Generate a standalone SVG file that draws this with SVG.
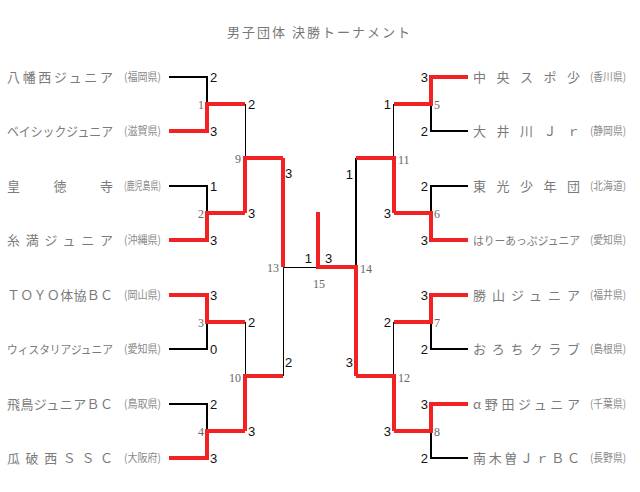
<svg xmlns="http://www.w3.org/2000/svg" width="640" height="492" viewBox="0 0 640 492">
<style>
.bg{fill:#fff}
.title{font-family:"Noto Sans CJK JP","Liberation Sans",sans-serif;font-size:13px;fill:#777}
.nm{font-family:"Noto Sans CJK JP","Liberation Sans",sans-serif;font-size:13px;fill:#7a7a7a}
.pf{font-family:"Noto Sans CJK JP","Liberation Sans",sans-serif;font-size:11px;fill:#8a8a8a}
.sc{font-family:"Liberation Sans",Arial,sans-serif;font-size:13px;fill:#111}
.mn{font-family:"Liberation Serif","Times New Roman",serif;font-size:12px;fill:#666}
.lose{fill:none;stroke:#000;stroke-width:2}
.thin{fill:none;stroke:#000;stroke-width:1}
.win{fill:none;stroke:#f22222;stroke-width:4;stroke-linejoin:miter}
</style>
<rect class="bg" x="0" y="0" width="640" height="492"/>
<text class="title" x="227" y="37" textLength="183" lengthAdjust="spacing">男子団体 決勝トーナメント</text>

<g id="team-L1"><text class="nm" x="7" y="82" textLength="106" lengthAdjust="spacing">八幡西ジュニア</text><text class="pf" x="124" y="81" textLength="37" lengthAdjust="spacingAndGlyphs">(福岡県)</text></g>
<g id="team-L2"><text class="nm" x="7" y="136" textLength="106" lengthAdjust="spacingAndGlyphs">ベイシックジュニア</text><text class="pf" x="124" y="135" textLength="37" lengthAdjust="spacingAndGlyphs">(滋賀県)</text></g>
<g id="team-L3"><text class="nm" x="7" y="191" textLength="106" lengthAdjust="spacing">皇徳寺</text><text class="pf" x="124" y="190" textLength="37" lengthAdjust="spacingAndGlyphs">(鹿児島県)</text></g>
<g id="team-L4"><text class="nm" x="7" y="245" textLength="106" lengthAdjust="spacing">糸満ジュニア</text><text class="pf" x="124" y="244" textLength="37" lengthAdjust="spacingAndGlyphs">(沖縄県)</text></g>
<g id="team-L5"><text class="nm" x="7" y="300" textLength="106" lengthAdjust="spacing">ＴＯＹＯ体協ＢＣ</text><text class="pf" x="124" y="299" textLength="37" lengthAdjust="spacingAndGlyphs">(岡山県)</text></g>
<g id="team-L6"><text class="nm" x="7" y="354" textLength="106" lengthAdjust="spacingAndGlyphs" style="font-size:11.5px">ウィスタリアジュニア</text><text class="pf" x="124" y="353" textLength="37" lengthAdjust="spacingAndGlyphs">(愛知県)</text></g>
<g id="team-L7"><text class="nm" x="7" y="409" textLength="106" lengthAdjust="spacing">飛鳥ジュニアＢＣ</text><text class="pf" x="124" y="408" textLength="37" lengthAdjust="spacingAndGlyphs">(鳥取県)</text></g>
<g id="team-L8"><text class="nm" x="7" y="463" textLength="106" lengthAdjust="spacing">瓜破西ＳＳＣ</text><text class="pf" x="124" y="462" textLength="37" lengthAdjust="spacingAndGlyphs">(大阪府)</text></g>

<g id="team-R1"><text class="nm" x="473" y="82" textLength="107" lengthAdjust="spacing">中央スポ少</text><text class="pf" x="590" y="81" textLength="36" lengthAdjust="spacingAndGlyphs">(香川県)</text></g>
<g id="team-R2"><text class="nm" x="473" y="136" textLength="107" lengthAdjust="spacing">大井川Ｊｒ</text><text class="pf" x="590" y="135" textLength="36" lengthAdjust="spacingAndGlyphs">(静岡県)</text></g>
<g id="team-R3"><text class="nm" x="473" y="191" textLength="107" lengthAdjust="spacing">東光少年団</text><text class="pf" x="590" y="190" textLength="36" lengthAdjust="spacingAndGlyphs">(北海道)</text></g>
<g id="team-R4"><text class="nm" x="473" y="245" textLength="107" lengthAdjust="spacingAndGlyphs" style="font-size:11.5px">はりーあっぷジュニア</text><text class="pf" x="590" y="244" textLength="36" lengthAdjust="spacingAndGlyphs">(愛知県)</text></g>
<g id="team-R5"><text class="nm" x="473" y="300" textLength="107" lengthAdjust="spacing">勝山ジュニア</text><text class="pf" x="590" y="299" textLength="36" lengthAdjust="spacingAndGlyphs">(福井県)</text></g>
<g id="team-R6"><text class="nm" x="473" y="354" textLength="107" lengthAdjust="spacing">おろちクラブ</text><text class="pf" x="590" y="353" textLength="36" lengthAdjust="spacingAndGlyphs">(島根県)</text></g>
<g id="team-R7"><text class="nm" x="473" y="409" textLength="107" lengthAdjust="spacing">α野田ジュニア</text><text class="pf" x="590" y="408" textLength="36" lengthAdjust="spacingAndGlyphs">(千葉県)</text></g>
<g id="team-R8"><text class="nm" x="473" y="463" textLength="107" lengthAdjust="spacing">南木曽ＪｒＢＣ</text><text class="pf" x="590" y="462" textLength="36" lengthAdjust="spacingAndGlyphs">(長野県)</text></g>

<g id="connectors">
<path class="lose" d="M169,77H207V104M169,186H207V213M169,349H207V322M169,404H207V431"/>
<path class="lose" d="M468,131H431V104M468,186H431V213M468,349H431V322M468,458H431V431"/>
<path class="lose" d="M356,158V267"/>
<path class="thin" d="M245.5,104V158M245.5,322V376M283.5,376V267.5H318"/>
<path class="thin" d="M393.5,104V158M393.5,322V376"/>
<path class="win" d="M169,131H207V104H245M169,240H207V213H245M169,295H207V322H245M169,458H207V431H245"/>
<path class="win" d="M245,213V158H283M245,431V376H283M283,158V267"/>
<path class="win" d="M318,212V267H356"/>
<path class="win" d="M468,77H431V104H394M468,240H431V213H394M468,295H431V322H394M468,404H431V431H394"/>
<path class="win" d="M394,213V158H356M394,431V376H356M356,376V267H318"/>
</g>

<g id="scores">
<text class="sc" x="210" y="82">2</text><text class="sc" x="210" y="136">3</text>
<text class="sc" x="210" y="191">1</text><text class="sc" x="210" y="245">3</text>
<text class="sc" x="210" y="300">3</text><text class="sc" x="210" y="354">0</text>
<text class="sc" x="210" y="409">2</text><text class="sc" x="210" y="463">3</text>
<text class="sc" x="248" y="109">2</text><text class="sc" x="248" y="218">3</text>
<text class="sc" x="248" y="327">2</text><text class="sc" x="248" y="436">3</text>
<text class="sc" x="285" y="178">3</text><text class="sc" x="285" y="367">2</text>
<text class="sc" x="312" y="263" text-anchor="end">1</text><text class="sc" x="325" y="263">3</text>
<text class="sc" x="428" y="82" text-anchor="end">3</text><text class="sc" x="428" y="136" text-anchor="end">2</text>
<text class="sc" x="428" y="191" text-anchor="end">2</text><text class="sc" x="428" y="245" text-anchor="end">3</text>
<text class="sc" x="428" y="300" text-anchor="end">3</text><text class="sc" x="428" y="354" text-anchor="end">2</text>
<text class="sc" x="428" y="409" text-anchor="end">3</text><text class="sc" x="428" y="463" text-anchor="end">2</text>
<text class="sc" x="391" y="109" text-anchor="end">1</text><text class="sc" x="391" y="218" text-anchor="end">3</text>
<text class="sc" x="391" y="327" text-anchor="end">2</text><text class="sc" x="391" y="436" text-anchor="end">3</text>
<text class="sc" x="353" y="179" text-anchor="end">1</text><text class="sc" x="353" y="367" text-anchor="end">3</text>
</g>

<g id="match-1"><text class="mn" x="204" y="109" text-anchor="end">1</text></g>
<g id="match-2"><text class="mn" x="204" y="218" text-anchor="end">2</text></g>
<g id="match-3"><text class="mn" x="204" y="327" text-anchor="end">3</text></g>
<g id="match-4"><text class="mn" x="204" y="436" text-anchor="end">4</text></g>
<g id="match-9"><text class="mn" x="241" y="163" text-anchor="end">9</text></g>
<g id="match-10"><text class="mn" x="241" y="382" text-anchor="end">10</text></g>
<g id="match-13"><text class="mn" x="279" y="272" text-anchor="end">13</text></g>
<g id="match-5"><text class="mn" x="434" y="109">5</text></g>
<g id="match-6"><text class="mn" x="434" y="218">6</text></g>
<g id="match-7"><text class="mn" x="434" y="327">7</text></g>
<g id="match-8"><text class="mn" x="434" y="436">8</text></g>
<g id="match-11"><text class="mn" x="398" y="164">11</text></g>
<g id="match-12"><text class="mn" x="398" y="382">12</text></g>
<g id="match-14"><text class="mn" x="360" y="273">14</text></g>
<g id="match-15"><text class="mn" x="313" y="288">15</text></g>
</svg>
